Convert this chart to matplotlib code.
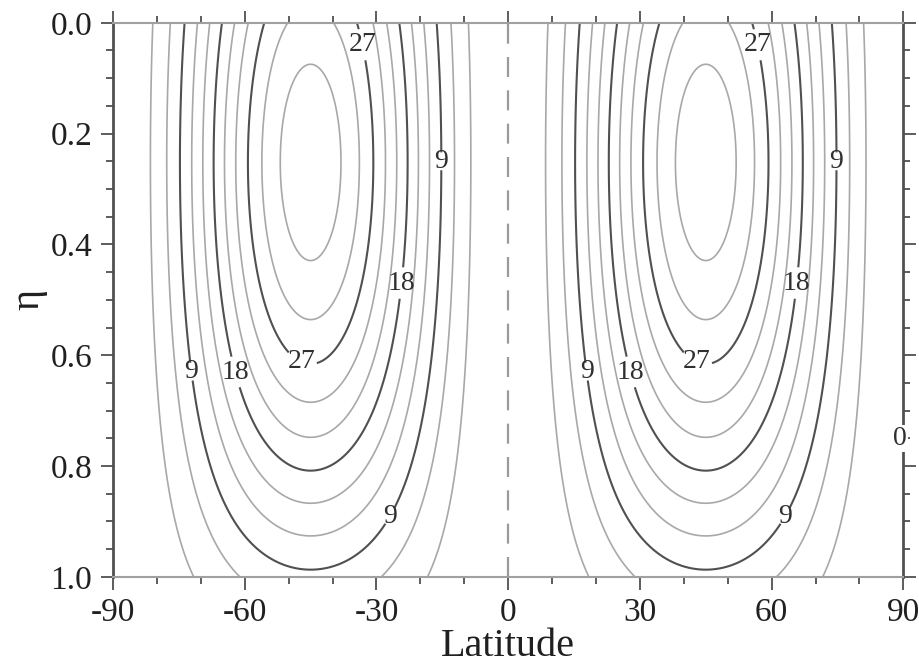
import numpy as np
import matplotlib
matplotlib.use('Agg')
import matplotlib.pyplot as plt
from matplotlib.ticker import MultipleLocator

plt.rcParams['font.family'] = ['Liberation Serif', 'DejaVu Serif']
plt.rcParams['axes.unicode_minus'] = False

# zonal wind field parameters (peak ~35 near eta 0.25, lat +-45)
u0 = 35.0
eta0 = 0.252

thin_levels = [3, 6, 12, 15, 21, 24, 30, 33]
thick_levels = [9, 18, 27]

# contour label positions (latitude, eta)
label_lat = [-33.5, -15.5, -24, -47, -62, -72.5, -27,
             56.5, 74.5, 66, 43, 28, 17.5, 63]
label_eta = [0.04, 0.25, 0.47, 0.61, 0.63, 0.63, 0.89,
             0.04, 0.25, 0.47, 0.61, 0.63, 0.63, 0.89]

x_ticks = [-90, -60, -30, 0, 30, 60, 90]
y_ticks = [0.0, 0.2, 0.4, 0.6, 0.8, 1.0]

lat = np.linspace(-90, 90, 541)
eta = np.linspace(0, 1, 301)
LAT, ETA = np.meshgrid(lat, eta)
eta_v = (ETA - eta0) * np.pi / 2
U = u0 * np.cos(eta_v) ** 1.5 * np.sin(2 * np.radians(LAT)) ** 2

fig = plt.figure(figsize=(9.19, 6.7), dpi=100)
ax = fig.add_axes([0.123, 0.139, 0.860, 0.827])

ax.contour(LAT, ETA, U, levels=thin_levels, colors='#a8a8a8', linewidths=1.2)
cs = ax.contour(LAT, ETA, U, levels=thick_levels, colors='#505050', linewidths=1.5)
labels = ax.clabel(cs, fmt='%d', fontsize=20, colors='#303030', inline=True,
                   inline_spacing=2, manual=list(zip(label_lat, label_eta)))
for t in labels:
    t.set_rotation(0)

# zero contour on the equator
ax.axvline(0, color='#9a9a9a', linewidth=1.6, dashes=(9, 6))
ax.text(89.3, 0.75, '0', fontsize=20, color='#303030', ha='center', va='center',
        zorder=6, clip_on=False,
        bbox=dict(facecolor='white', edgecolor='none', pad=0.5))

ax.set_xlim(-90, 90)
ax.set_ylim(1.0, 0.0)
ax.set_xticks(x_ticks)
ax.set_yticks(y_ticks)
ax.set_yticklabels(['%.1f' % v for v in y_ticks])
ax.xaxis.set_minor_locator(MultipleLocator(10))
ax.yaxis.set_minor_locator(MultipleLocator(0.05))
ax.tick_params(which='both', direction='out', top=True, right=True,
               colors='#505050', labelcolor='#202020', width=1.3)
ax.tick_params(which='major', length=9, labelsize=24, pad=6)
ax.tick_params(which='minor', length=5)

for side in ['top', 'bottom']:
    ax.spines[side].set_color('#a0a0a0')
    ax.spines[side].set_linewidth(1.5)
for side in ['left', 'right']:
    ax.spines[side].set_color('#505050')
    ax.spines[side].set_linewidth(2.0)

ax.set_xlabel('Latitude', fontsize=29, color='#202020', labelpad=0)
ax.set_ylabel('η', fontsize=29, color='#202020', labelpad=2)

fig.savefig('out.png', dpi=100)
